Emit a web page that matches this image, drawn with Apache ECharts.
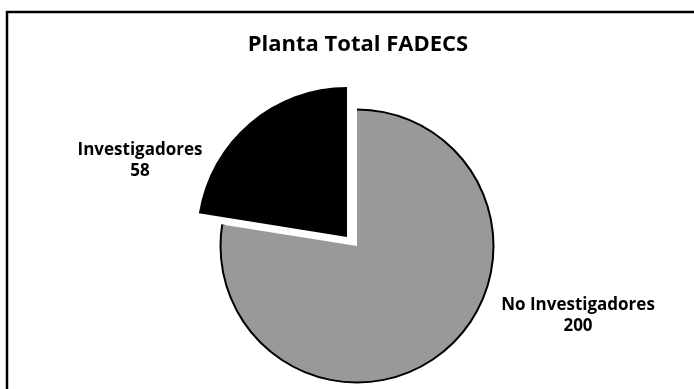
<!DOCTYPE html>
<html>
<head>
<meta charset="utf-8">
<script src="https://cdn.jsdelivr.net/npm/echarts@6/dist/echarts.min.js"></script>
<style>
  html,body{margin:0;padding:0;background:#fff;}
  #chart{width:694px;height:389px;}
</style>
</head>
<body>
<div id="chart"></div>
<script>
// data
const categories = ['No Investigadores', 'Investigadores'];
const values = [200, 58];
const sliceColors = ['#999999', '#000000'];

const chart = echarts.init(document.getElementById('chart'));

const fontFamily = '"Open Sans", "DejaVu Sans", sans-serif';
// label anchor points (centre of the two-line text)
const labelPos = [[578, 316], [140, 161]];

// one visible slice per series, the other one hidden
function pick(idx, color) {
  return categories.map((name, i) => ({
    name: name,
    value: values[i],
    itemStyle: { color: i === idx ? color : 'transparent' }
  }));
}

function sliceLabel(idx) {
  return {
    show: true,
    formatter: p => p.dataIndex === idx ? p.name + '\n' + p.value : '',
    fontFamily: fontFamily, fontSize: 17, fontWeight: 'bold', color: '#000',
    lineHeight: 21, align: 'center'
  };
}

function sliceLayout(idx) {
  return p => p.dataIndex === idx
    ? { x: labelPos[idx][0], y: labelPos[idx][1], align: 'center', verticalAlign: 'middle' }
    : {};
}

const option = {
  animation: false,
  title: {
    text: 'Planta Total FADECS',
    left: 353,
    top: 29,
    textAlign: 'center',
    textStyle: { fontFamily: fontFamily, fontSize: 22, fontWeight: 'bold', color: '#000' }
  },
  graphic: [{
    type: 'rect',
    shape: { x: 7, y: 12, width: 720, height: 420 },
    style: { fill: 'none', stroke: '#000', lineWidth: 2.5 },
    silent: true
  }],
  series: [
    {
      // black outline on the arc of the grey slice
      type: 'pie',
      center: [357, 246],
      radius: [133, 137.5],
      startAngle: 90,
      silent: true,
      label: { show: false },
      labelLine: { show: false },
      data: pick(0, '#000')
    },
    {
      type: 'pie',
      center: [357, 246],
      radius: [0, 135.5],
      startAngle: 90,
      silent: true,
      label: sliceLabel(0),
      labelLine: { show: false },
      labelLayout: sliceLayout(0),
      data: pick(0, sliceColors[0])
    },
    {
      // exploded black slice
      type: 'pie',
      center: [347, 237],
      radius: [0, 150],
      startAngle: 90,
      silent: true,
      label: sliceLabel(1),
      labelLine: { show: false },
      labelLayout: sliceLayout(1),
      data: pick(1, sliceColors[1])
    }
  ]
};

chart.setOption(option);
</script>
</body>
</html>
